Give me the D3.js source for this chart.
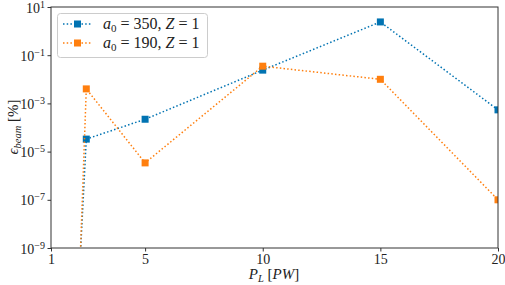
<!DOCTYPE html>
<html><head><meta charset="utf-8">
<script src="https://cdn.jsdelivr.net/npm/d3@7"></script>
<style>body{margin:0;background:#fff}svg{display:block}</style>
</head><body>
<script>
const xVals = [2, 2.5, 5, 10, 15, 20];
const seriesA = [1e-14, 3.3e-5, 2.2e-4, 0.024, 2.4, 5.4e-4];
const seriesB = [1e-16, 4e-3, 3.4e-6, 0.035, 0.01, 1e-7];
const seriesNames = ["350", "190"];
const xTicks = [1, 5, 10, 15, 20];
const yTickExps = [1, -1, -3, -5, -7, -9];
const colors = ["#0173b2", "#ff7f0e"];
const FONT = "'Liberation Serif', 'DejaVu Serif', serif";

const W = 505, H = 285;
const m = {l: 51, r: 7, t: 7, b: 37};
const svg = d3.select("body").append("svg").attr("width", W).attr("height", H)
  .attr("font-family", FONT);
const x = d3.scaleLinear().domain([1, 20]).range([m.l, W - m.r]);
const y = d3.scaleLog().domain([1e-9, 1e1]).range([H - m.b, m.t]);

svg.append("defs").append("clipPath").attr("id", "clip")
  .append("rect").attr("x", m.l).attr("y", m.t).attr("width", W - m.r - m.l).attr("height", H - m.b - m.t);

const g = svg.append("g").attr("clip-path", "url(#clip)");
const line = d3.line().x(d => x(d[0])).y(d => y(d[1]));
[seriesA, seriesB].forEach((s, i) => {
  const pts = xVals.map((v, j) => [v, s[j]]);
  g.append("path").attr("d", line(pts)).attr("fill", "none")
    .attr("stroke", colors[i]).attr("stroke-width", 1.5).attr("stroke-dasharray", "1.5,2.2");
  g.selectAll(null).data(pts.slice(1)).enter().append("rect")
    .attr("x", d => x(d[0]) - 3.5).attr("y", d => y(d[1]) - 3.5)
    .attr("width", 7).attr("height", 7).attr("fill", colors[i]);
});

svg.append("rect").attr("x", m.l).attr("y", m.t).attr("width", W - m.r - m.l).attr("height", H - m.b - m.t)
  .attr("fill", "none").attr("stroke", "#333").attr("stroke-width", 1);

const xa = svg.append("g").attr("transform", `translate(0,${H - m.b})`)
  .call(d3.axisBottom(x).tickValues(xTicks).tickSize(3.5).tickFormat(d3.format("d")));
xa.attr("font-family", FONT);
xa.select(".domain").remove();
xa.selectAll("line").attr("stroke", "#333");
xa.selectAll("text").attr("font-size", 14).attr("font-family", FONT).attr("fill", "#222").attr("y", 5).attr("dy", "0.8em");

const ya = svg.append("g").attr("transform", `translate(${m.l},0)`)
  .call(d3.axisLeft(y).tickValues(yTickExps.map(e => Math.pow(10, e))).tickSize(3.5).tickFormat(""));
ya.attr("font-family", FONT);
ya.select(".domain").remove();
ya.selectAll("line").attr("stroke", "#333");
ya.selectAll(".tick").each(function(d, i) {
  const e = yTickExps[i];
  const t = d3.select(this).append("text").attr("x", -6).attr("y", 5)
    .attr("text-anchor", "end").attr("font-size", 14).attr("font-family", FONT).attr("fill", "#222");
  t.append("tspan").text("10");
  t.append("tspan").attr("dy", -5).attr("font-size", 10).text(e < 0 ? "\u2212" + (-e) : String(e));
});

const xl = svg.append("text").attr("x", 274).attr("y", 279).attr("text-anchor", "middle")
  .attr("font-size", 15).attr("fill", "#222");
xl.append("tspan").attr("font-style", "italic").text("P");
xl.append("tspan").attr("font-style", "italic").attr("font-size", 10.5).attr("dy", 2.5).text("L");
xl.append("tspan").attr("dy", -2.5).text(" [");
xl.append("tspan").attr("font-style", "italic").text("PW");
xl.append("tspan").text("]");

const yl = svg.append("text").attr("transform", "translate(18,127) rotate(-90)").attr("text-anchor", "middle")
  .attr("font-size", 15).attr("fill", "#222");
yl.append("tspan").attr("font-style", "italic").text("\u03f5");
yl.append("tspan").attr("font-style", "italic").attr("font-size", 10.5).attr("dy", 3).text("beam");
yl.append("tspan").attr("dy", -3).text(" [%]");

const lg = svg.append("g");
lg.append("rect").attr("x", 57.5).attr("y", 13.5).attr("width", 150).attr("height", 44).attr("rx", 3)
  .attr("fill", "#fff").attr("fill-opacity", 0.8).attr("stroke", "#ccc");
seriesNames.forEach((n, i) => {
  const cy = 24 + i * 19;
  lg.append("line").attr("x1", 63).attr("x2", 92).attr("y1", cy).attr("y2", cy)
    .attr("stroke", colors[i]).attr("stroke-width", 1.5).attr("stroke-dasharray", "1.5,2.2");
  lg.append("rect").attr("x", 74).attr("y", cy - 3.5).attr("width", 7).attr("height", 7).attr("fill", colors[i]);
  const t = lg.append("text").attr("x", 103).attr("y", cy + 5).attr("font-size", 16).attr("fill", "#222");
  t.append("tspan").attr("font-style", "italic").text("a");
  t.append("tspan").attr("font-size", 11).attr("dy", 3).text("0");
  t.append("tspan").attr("dy", -3).text(" = " + n + ", ");
  t.append("tspan").attr("font-style", "italic").text("Z");
  t.append("tspan").text(" = 1");
});
</script>
</body></html>
